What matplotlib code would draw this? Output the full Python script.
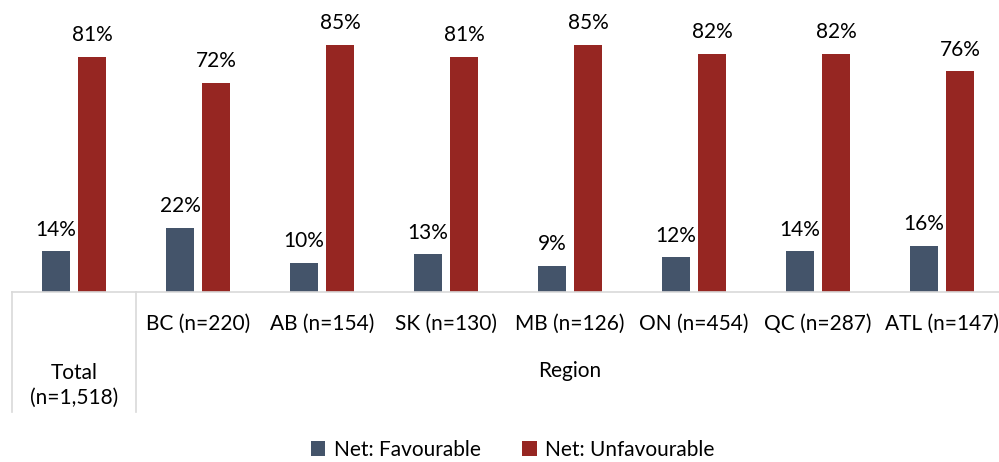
import numpy as np
import matplotlib.pyplot as plt

cats = ["Total\n(n=1,518)", "BC (n=220)", "AB (n=154)", "SK (n=130)", "MB (n=126)",
        "ON (n=454)", "QC (n=287)", "ATL (n=147)"]
favourable = [14, 22, 10, 13, 9, 12, 14, 16]
unfavourable = [81, 72, 85, 81, 85, 82, 82, 76]
series = ["Net: Favourable", "Net: Unfavourable"]
colors = ["#44546A", "#962622"]

plt.rcParams['font.family'] = ['Lato', 'DejaVu Sans']
fs = 15

fig = plt.figure(figsize=(9.99, 4.62), dpi=100)
ax = fig.add_axes([12/999, 170/462, 992/999, 292/462])

x = np.arange(len(cats))
w = 0.226
b1 = ax.bar(x - 0.145, favourable, w, color=colors[0], label=series[0])
b2 = ax.bar(x + 0.145, unfavourable, w, color=colors[1], label=series[1])
for bars, vals in [(b1, favourable), (b2, unfavourable)]:
    for r, v in zip(bars, vals):
        ax.text(r.get_x() + r.get_width()/2, v + 4.0, f"{v}%", ha="center", va="bottom",
                fontsize=fs)

ax.set_xlim(-0.5, 7.5)
ax.set_ylim(0, 100.5)
ax.set_yticks([])
ax.set_xticks([])
for s in ["top", "right", "left"]:
    ax.spines[s].set_visible(False)
ax.spines["bottom"].set_color("#d9d9d9")
ax.spines["bottom"].set_linewidth(1.2)

# multi-level category axis
trans = ax.get_xaxis_transform()
for i in range(1, len(cats)):
    ax.text(x[i], -0.11, cats[i], transform=trans, ha="center", va="center", fontsize=fs)
ax.text(x[0], -0.32, cats[0], transform=trans, ha="center", va="center", fontsize=fs,
        linespacing=1.25)
ax.text(4, -0.27, "Region", transform=trans, ha="center", va="center", fontsize=fs)
for xs in [-0.5, 0.5, 7.5]:
    ax.plot([xs, xs], [0, -0.41], transform=trans, color="#d9d9d9", lw=1.2, clip_on=False)

fig.legend(handles=[b1, b2], labels=series, loc="center", bbox_to_anchor=(0.513, 12/462),
           ncol=2, frameon=False, fontsize=fs, handlelength=0.7, handleheight=0.7,
           handletextpad=0.4, columnspacing=2.0)

fig.savefig("out.png", dpi=100)
